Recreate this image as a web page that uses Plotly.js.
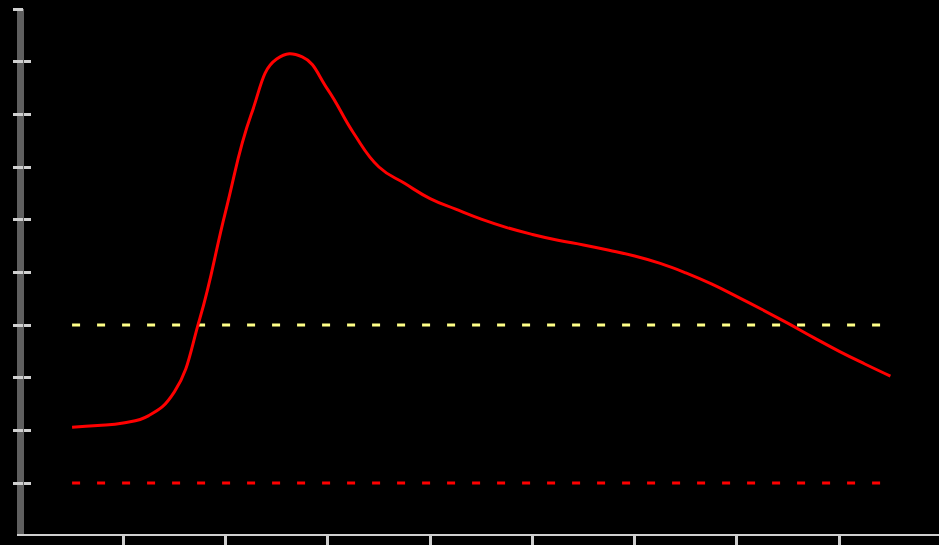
<!DOCTYPE html>
<html>
<head>
<meta charset="utf-8">
<script src="https://cdn.plot.ly/plotly-3.0.1.min.js"></script>
<style>
  html, body { margin: 0; padding: 0; background: #000; }
  #chart { width: 939px; height: 545px; }
</style>
</head>
<body>
<div id="chart"></div>
<script>
// Curve samples (x, value)
const curveX = [0.5, 0.75, 1.0, 1.25, 1.5, 1.75, 2.0, 2.25, 2.5, 2.75, 3.0, 3.25, 3.5, 3.75, 4.0, 4.25, 4.5, 4.75, 5.0, 5.25, 5.5, 5.75, 6.0, 6.25, 6.5, 6.75, 7.0, 7.25, 7.5, 7.75, 8.0, 8.25, 8.5];
const curveY = [2.06, 2.09, 2.14, 2.28, 2.73, 4.13, 6.15, 7.99, 9.05, 9.09, 8.47, 7.65, 7.00, 6.69, 6.40, 6.20, 6.01, 5.85, 5.72, 5.61, 5.52, 5.42, 5.31, 5.17, 4.99, 4.78, 4.54, 4.29, 4.03, 3.76, 3.50, 3.26, 3.03];
// Reference limits
const limitX = [0.5, 8.5];
const upperLimit = [4, 4];
const lowerLimit = [1, 1];
// Ticks
const xTicks = [1, 2, 3, 4, 5, 6, 7, 8];
const yTicks = [1, 2, 3, 4, 5, 6, 7, 8, 9, 10];

const traces = [
  { x: limitX, y: upperLimit, mode: 'lines', line: { color: '#ffff88', width: 3, dash: '8px,17px' }, hoverinfo: 'skip' },
  { x: limitX, y: lowerLimit, mode: 'lines', line: { color: '#ff0000', width: 3, dash: '8px,17px' }, hoverinfo: 'skip' },
  { x: curveX, y: curveY, mode: 'lines', line: { color: '#ff0000', width: 3, shape: 'spline', smoothing: 1.3 } },
  { x: [], y: [], yaxis: 'y2', mode: 'lines', showlegend: false }
];

const layout = {
  width: 939, height: 545,
  paper_bgcolor: '#000000', plot_bgcolor: '#000000',
  margin: { l: 24, r: 0, t: 9, b: 11, pad: 0 },
  showlegend: false,
  xaxis: {
    range: [0.030, 8.975], showgrid: false, zeroline: false,
    showline: true, linecolor: '#cfcfcf', linewidth: 2,
    ticks: 'outside', ticklen: 9, tickwidth: 3, tickcolor: '#cfcfcf',
    tickvals: xTicks, showticklabels: false
  },
  yaxis: {
    range: [0.032, 10], showgrid: false, zeroline: false,
    showline: true, linecolor: '#5f5f5f', linewidth: 7, layer: 'below traces',
    ticks: 'inside', ticklen: 7, tickwidth: 3, tickcolor: '#d0d0d0',
    tickvals: yTicks, showticklabels: false
  },
  yaxis2: {
    overlaying: 'y', side: 'left', range: [0.032, 10], showgrid: false, zeroline: false,
    showline: false, ticks: 'outside', ticklen: 10, tickwidth: 3, tickcolor: '#d0d0d0',
    tickvals: yTicks, showticklabels: false
  }
};

Plotly.newPlot('chart', traces, layout, { displayModeBar: false, staticPlot: true });
</script>
</body>
</html>
